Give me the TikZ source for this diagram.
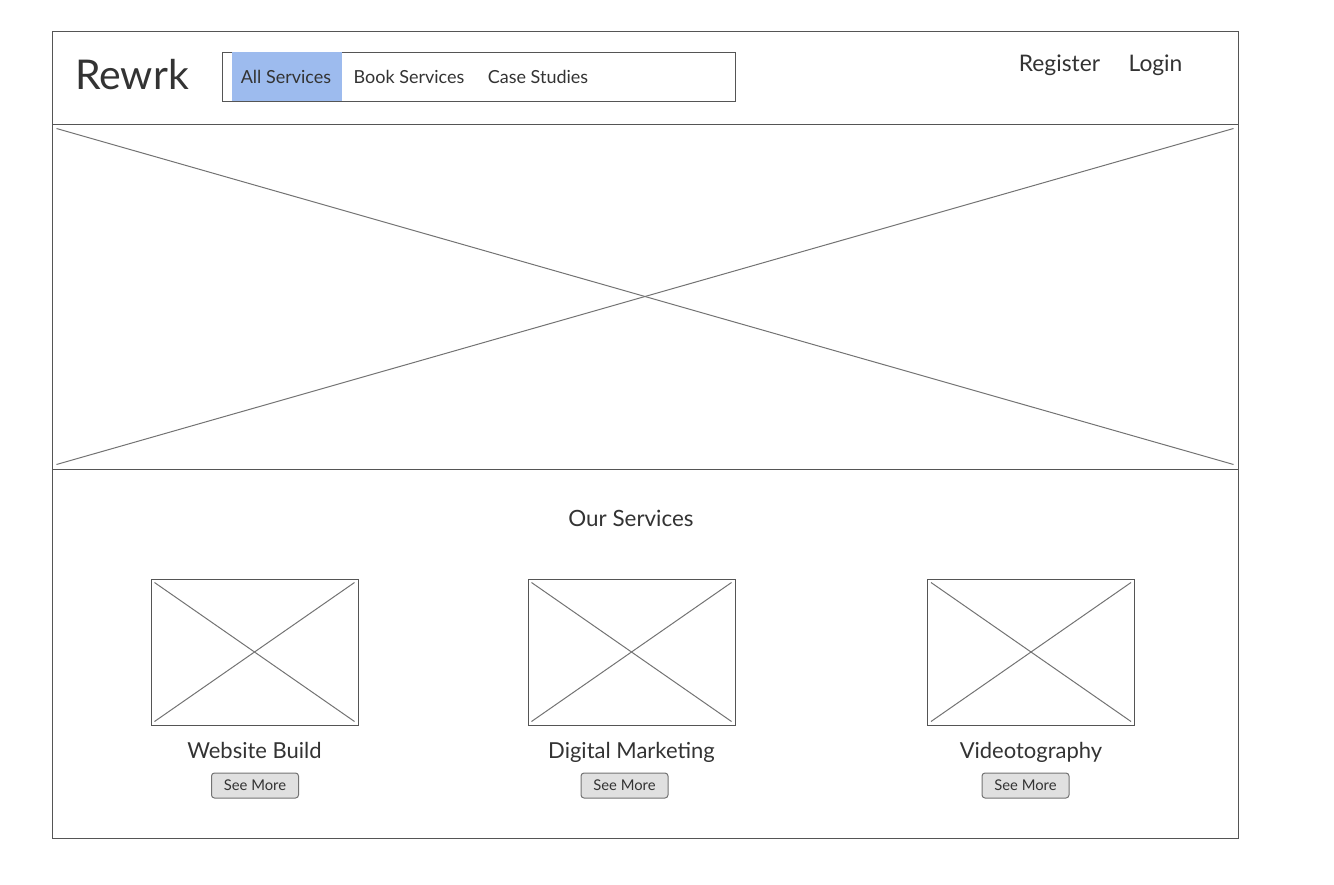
\documentclass[tikz,border=0pt]{standalone}
\usepackage{fontspec}
\setmainfont{Lato}
\usetikzlibrary{positioning}
\definecolor{ink}{HTML}{333333}
\definecolor{edge}{HTML}{555555}
\definecolor{navblue}{HTML}{9DBBEE}
\definecolor{btngray}{HTML}{E0E0E0}
\newcommand{\fsz}[1]{\fontsize{#1}{#1}\selectfont}

\begin{document}
\begin{tikzpicture}[x=0.5pt,y=-0.5pt,
  box/.style={draw=edge,line width=0.5pt,inner sep=0pt},
  cross/.style={draw=black!55,line width=0.5pt},
  txt/.style={text=ink,inner sep=0pt,anchor=base},
  btn/.style={draw=black!55,fill=btngray,rounded corners=1.5pt,line width=0.5pt,
    minimum width=43.5pt,minimum height=12.5pt,inner sep=0pt,text=ink,font=\fsz{7.4}}]
\useasboundingbox (0,0) rectangle (1334,884);
% page and header
\node (page) [box,minimum width=593pt,minimum height=403.5pt] at (645,434.5) {};
\node (logo) [txt,font=\fsz{20.5}] at (132,89) {Rewrk};
\node (nav) [box,minimum width=256.5pt,minimum height=24.5pt] at (478.5,76.5) {};
\node (navsel) [fill=navblue,minimum width=55pt,minimum height=24.5pt,inner sep=0pt] at (287,76.5) {};
\node (allsvc) [txt,font=\fsz{9}] at (286,83) {All Services};
\node (booksvc) [txt,font=\fsz{9}] at (409,83) {Book Services};
\node (cases) [txt,font=\fsz{9}] at (538,83) {Case Studies};
\node (reg) [txt,font=\fsz{11.4}] at (1059.5,71.5) {Register};
\node (login) [txt,font=\fsz{11.4}] at (1155.5,71.5) {Login};
% hero image
\node (hero) [box,minimum width=593pt,minimum height=172.5pt] at (645,296.5) {};
\draw[cross] ([shift={(5,5)}]hero.north west) -- ([shift={(-5,-5)}]hero.south east);
\draw[cross] ([shift={(5,-5)}]hero.south west) -- ([shift={(-5,5)}]hero.north east);
% services
\node (ours) [txt,font=\fsz{11.2}] at (631,526.5) {Our Services};
\foreach \i/\cx/\lbl/\bx in {1/254.5/Website Build/255, 2/631.5/Digital Marketing/624.5, 3/1031/Videotography/1025.5} {
  \node (img\i) [box,minimum width=103.5pt,minimum height=73pt] at (\cx,652) {};
  \draw[cross] ([shift={(4,4)}]img\i.north west) -- ([shift={(-4,-4)}]img\i.south east);
  \draw[cross] ([shift={(4,-4)}]img\i.south west) -- ([shift={(-4,4)}]img\i.north east);
  \node (ttl\i) [txt,font=\fsz{11}] at (\cx,758) {\lbl};
  \node (btn\i) [btn] at (\bx,785.5) {See More};
}
\end{tikzpicture}
\end{document}
